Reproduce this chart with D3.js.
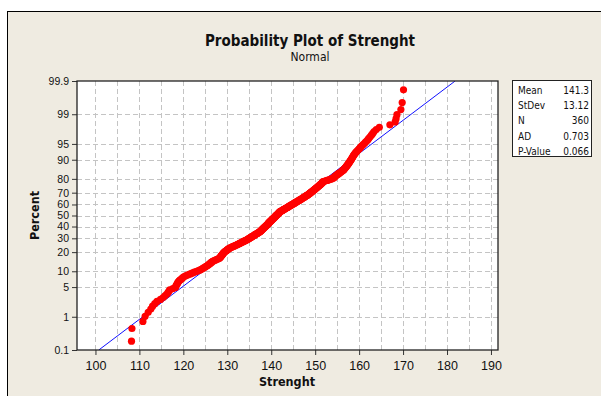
<!DOCTYPE html>
<html>
<head>
<meta charset="utf-8">
<script src="https://cdn.jsdelivr.net/npm/d3@7"></script>
<style>
  html, body { margin: 0; padding: 0; background: #ffffff; }
  svg { display: block; font-family: "DejaVu Sans Condensed", "DejaVu Sans", sans-serif; }
</style>
</head>
<body>
<div id="chart"></div>
<script>
// sorted Strenght values
const strength = [
  108.2, 108.3, 110.8, 111.3, 112.0, 112.6, 113.0, 113.5, 114.0, 114.8,
  115.4, 115.8, 116.2, 116.5, 116.7, 116.9, 117.6, 118.2, 118.3, 118.4,
  118.6, 118.7, 118.8, 119.0, 119.2, 119.5, 119.7, 119.9, 120.1, 120.5,
  120.9, 121.3, 121.7, 122.1, 122.5, 122.9, 123.3, 123.7, 124.0, 124.3,
  124.5, 124.8, 125.0, 125.2, 125.4, 125.6, 125.8, 125.9, 126.1, 126.2,
  126.4, 126.5, 126.7, 126.9, 127.2, 127.4, 127.7, 127.9, 128.2, 128.3,
  128.4, 128.5, 128.6, 128.6, 128.7, 128.8, 128.9, 129.0, 129.0, 129.1,
  129.2, 129.3, 129.4, 129.5, 129.7, 129.8, 129.9, 130.0, 130.1, 130.3,
  130.4, 130.5, 130.7, 130.9, 131.1, 131.3, 131.5, 131.7, 131.9, 132.1,
  132.3, 132.4, 132.6, 132.8, 132.9, 133.1, 133.3, 133.4, 133.6, 133.8,
  133.9, 134.1, 134.3, 134.4, 134.6, 134.7, 134.8, 135.0, 135.1, 135.2,
  135.3, 135.5, 135.6, 135.7, 135.8, 136.0, 136.1, 136.2, 136.3, 136.4,
  136.6, 136.7, 136.8, 136.9, 137.0, 137.2, 137.3, 137.4, 137.5, 137.6,
  137.6, 137.7, 137.8, 137.9, 137.9, 138.0, 138.1, 138.2, 138.2, 138.3,
  138.4, 138.5, 138.5, 138.6, 138.7, 138.8, 138.8, 138.9, 139.0, 139.1,
  139.1, 139.2, 139.3, 139.3, 139.4, 139.4, 139.5, 139.6, 139.6, 139.7,
  139.8, 139.8, 139.9, 140.0, 140.1, 140.1, 140.2, 140.3, 140.3, 140.4,
  140.5, 140.6, 140.6, 140.7, 140.8, 140.8, 140.9, 141.0, 141.0, 141.1,
  141.2, 141.2, 141.3, 141.4, 141.5, 141.5, 141.6, 141.7, 141.7, 141.8,
  141.9, 141.9, 142.0, 142.1, 142.2, 142.4, 142.5, 142.6, 142.7, 142.8,
  142.9, 143.1, 143.2, 143.3, 143.4, 143.5, 143.7, 143.8, 143.9, 144.0,
  144.1, 144.2, 144.4, 144.5, 144.6, 144.7, 144.8, 145.0, 145.1, 145.2,
  145.3, 145.4, 145.5, 145.7, 145.8, 145.9, 146.0, 146.2, 146.3, 146.4,
  146.5, 146.6, 146.8, 146.9, 147.0, 147.1, 147.2, 147.3, 147.5, 147.6,
  147.7, 147.8, 147.9, 148.0, 148.2, 148.3, 148.4, 148.5, 148.6, 148.7,
  148.8, 148.9, 149.0, 149.1, 149.2, 149.3, 149.4, 149.5, 149.6, 149.7,
  149.8, 149.9, 150.0, 150.1, 150.2, 150.3, 150.4, 150.5, 150.6, 150.7,
  150.8, 150.9, 151.0, 151.1, 151.2, 151.3, 151.4, 151.5, 151.6, 151.7,
  151.7, 151.8, 152.1, 152.4, 152.7, 153.0, 153.3, 153.5, 153.8, 154.1,
  154.2, 154.3, 154.4, 154.5, 154.6, 154.7, 154.9, 155.0, 155.2, 155.3,
  155.5, 155.6, 155.8, 155.9, 156.1, 156.2, 156.4, 156.5, 156.6, 156.7,
  156.8, 156.9, 157.0, 157.1, 157.2, 157.3, 157.4, 157.5, 157.6, 157.7,
  157.8, 157.9, 158.0, 158.1, 158.2, 158.3, 158.4, 158.5, 158.6, 158.7,
  158.8, 158.9, 159.1, 159.2, 159.4, 159.6, 159.8, 160.0, 160.2, 160.4,
  160.6, 160.9, 161.2, 161.4, 161.7, 162.0, 162.2, 162.5, 162.8, 163.1,
  163.4, 163.9, 164.6, 167.0, 168.2, 168.4, 168.6, 169.5, 169.8, 170.1
];

const mean = 141.3;
const stdev = 13.12;

const statLabels = ['Mean', 'StDev', 'N', 'AD', 'P-Value'];
const statValues = ['141.3', '13.12', '360', '0.703', '0.066'];

const xTicks = [100, 110, 120, 130, 140, 150, 160, 170, 180, 190];
const xGrid = [100, 105, 110, 115, 120, 125, 130, 135, 140, 145, 150, 155, 160, 165, 170, 175, 180, 185, 190];
const yTicks = [0.1, 1, 5, 10, 20, 30, 40, 50, 60, 70, 80, 90, 95, 99, 99.9];

const width = 601;
const height = 396;
const plot = { left: 77, right: 498, top: 81, bottom: 350 };

// inverse normal cdf (Acklam)
function probit(p) {
  const a = [-3.969683028665376e+01, 2.209460984245205e+02, -2.759285104469687e+02, 1.383577518672690e+02, -3.066479806614716e+01, 2.506628277459239e+00];
  const b = [-5.447609879822406e+01, 1.615858368580409e+02, -1.556989798598866e+02, 6.680131188771972e+01, -1.328068155288572e+01];
  const c = [-7.784894002430293e-03, -3.223964580411365e-01, -2.400758277161838e+00, -2.549732539343734e+00, 4.374664141464968e+00, 2.938163982698783e+00];
  const d = [7.784695709041462e-03, 3.224671290700398e-01, 2.445134137142996e+00, 3.754408661907416e+00];
  const pl = 0.02425;
  if (p < pl) {
    const q = Math.sqrt(-2 * Math.log(p));
    return (((((c[0]*q+c[1])*q+c[2])*q+c[3])*q+c[4])*q+c[5]) / ((((d[0]*q+d[1])*q+d[2])*q+d[3])*q+1);
  }
  if (p > 1 - pl) {
    const q = Math.sqrt(-2 * Math.log(1 - p));
    return -(((((c[0]*q+c[1])*q+c[2])*q+c[3])*q+c[4])*q+c[5]) / ((((d[0]*q+d[1])*q+d[2])*q+d[3])*q+1);
  }
  const q = p - 0.5, r = q * q;
  return (((((a[0]*r+a[1])*r+a[2])*r+a[3])*r+a[4])*r+a[5])*q / (((((b[0]*r+b[1])*r+b[2])*r+b[3])*r+b[4])*r+1);
}

const n = strength.length;
const points = strength.map((v, i) => ({ value: v, z: probit((i + 1 - 0.3) / (n + 0.4)) }));

const zMax = probit(0.999);

const x = d3.scaleLinear().domain([95.8, 191.6]).range([plot.left, plot.right]);
const y = d3.scaleLinear().domain([-zMax, zMax]).range([plot.bottom, plot.top]);
const yPct = p => y(probit(p / 100));

const svg = d3.select('#chart')
  .append('svg')
  .attr('width', width)
  .attr('height', height);

// outer frame
svg.append('rect')
  .attr('x', 7.5).attr('y', 11.5)
  .attr('width', width + 20).attr('height', height + 20)
  .attr('fill', '#efebe1')
  .attr('stroke', '#000')
  .attr('stroke-width', 1);

svg.append('text')
  .attr('x', 310).attr('y', 46)
  .attr('text-anchor', 'middle')
  .style('font-size', '15px')
  .style('font-weight', 'bold')
  .attr('fill', '#111')
  .text('Probability Plot of Strenght');

svg.append('text')
  .attr('x', 310).attr('y', 61)
  .attr('text-anchor', 'middle')
  .style('font-size', '12px')
  .attr('fill', '#111')
  .text('Normal');

// plot area
svg.append('rect')
  .attr('x', plot.left).attr('y', plot.top)
  .attr('width', plot.right - plot.left).attr('height', plot.bottom - plot.top)
  .attr('fill', '#ffffff');

const grid = svg.append('g')
  .attr('stroke', '#c4c4c4')
  .attr('stroke-width', 1)
  .attr('stroke-dasharray', '5,3');

grid.selectAll('line.v')
  .data(xGrid)
  .join('line')
  .attr('class', 'v')
  .attr('x1', d => Math.round(x(d)) + 0.5).attr('x2', d => Math.round(x(d)) + 0.5)
  .attr('y1', plot.top).attr('y2', plot.bottom);

grid.selectAll('line.h')
  .data(yTicks.slice(1, -1))
  .join('line')
  .attr('class', 'h')
  .attr('x1', plot.left).attr('x2', plot.right)
  .attr('y1', d => Math.round(yPct(d)) + 0.5).attr('y2', d => Math.round(yPct(d)) + 0.5);

// fitted line
const clip = svg.append('clipPath').attr('id', 'clip')
  .append('rect')
  .attr('x', plot.left).attr('y', plot.top)
  .attr('width', plot.right - plot.left).attr('height', plot.bottom - plot.top);

svg.append('line')
  .attr('clip-path', 'url(#clip)')
  .attr('x1', x(mean - zMax * stdev)).attr('y1', y(-zMax))
  .attr('x2', x(mean + zMax * stdev)).attr('y2', y(zMax))
  .attr('stroke', '#1010ff')
  .attr('stroke-width', 1);

svg.append('g')
  .selectAll('circle')
  .data(points)
  .join('circle')
  .attr('cx', d => x(d.value))
  .attr('cy', d => y(d.z))
  .attr('r', 3.6)
  .attr('fill', '#ff0000');

// axes
const xAxis = svg.append('g')
  .attr('transform', `translate(0,${plot.bottom})`)
  .call(d3.axisBottom(x).tickValues(xTicks).tickSize(5).tickSizeOuter(0))
  .call(g => g.select('.domain').remove());
xAxis.selectAll('.tick text').style('font-size', '12.5px').attr('fill', '#111').attr('dy', '0.95em');
xAxis.selectAll('.tick line').attr('stroke', '#333');

const yScalePct = d3.scaleLinear().domain([0, 1]).range([0, 1]);
const yAxis = svg.append('g')
  .attr('transform', `translate(${plot.left},0)`)
  .call(d3.axisLeft(y).tickValues(yTicks.map(p => probit(p / 100)))
    .tickFormat((d, i) => String(yTicks[i])).tickSize(5).tickSizeOuter(0))
  .call(g => g.select('.domain').remove());
yAxis.selectAll('.tick text').style('font-size', '10.5px').attr('fill', '#111');
yAxis.selectAll('.tick line').attr('stroke', '#333');

svg.append('rect')
  .attr('x', plot.left).attr('y', plot.top)
  .attr('width', plot.right - plot.left).attr('height', plot.bottom - plot.top)
  .attr('fill', 'none')
  .attr('stroke', '#222')
  .attr('stroke-width', 1.3);

svg.append('text')
  .attr('x', 287).attr('y', 386)
  .attr('text-anchor', 'middle')
  .style('font-size', '12.5px')
  .style('font-weight', 'bold')
  .attr('fill', '#111')
  .text('Strenght');

svg.append('text')
  .attr('transform', `translate(39,${(plot.top + plot.bottom) / 2}) rotate(-90)`)
  .attr('text-anchor', 'middle')
  .style('font-size', '12.5px')
  .style('font-weight', 'bold')
  .attr('fill', '#111')
  .text('Percent');

// stats box
const box = svg.append('g');
box.append('rect')
  .attr('x', 512.5).attr('y', 80.5)
  .attr('width', 79).attr('height', 76)
  .attr('fill', '#ffffff')
  .attr('stroke', '#222')
  .attr('stroke-width', 1);

const rows = box.selectAll('g.row')
  .data(statLabels)
  .join('g')
  .attr('class', 'row')
  .attr('transform', (d, i) => `translate(0,${94 + i * 15.2})`);

rows.append('text')
  .attr('x', 518)
  .style('font-size', '10px')
  .attr('fill', '#111')
  .text(d => d);

rows.append('text')
  .attr('x', 589)
  .attr('text-anchor', 'end')
  .style('font-size', '10px')
  .attr('fill', '#111')
  .text((d, i) => statValues[i]);
</script>
</body>
</html>
